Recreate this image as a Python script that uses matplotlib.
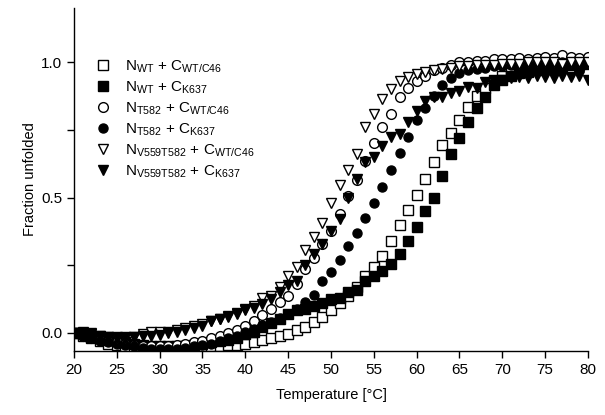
"""
Thermal unfolding curves: fraction unfolded vs temperature
"""
import matplotlib
matplotlib.use("Agg")
import matplotlib.pyplot as plt
from matplotlib.ticker import MultipleLocator

plt.rcParams.update({
    "font.family": ["Liberation Sans", "DejaVu Sans"],
    "mathtext.fontset": "custom",
    "mathtext.rm": "Liberation Sans",
    "mathtext.it": "Liberation Sans",
    "mathtext.bf": "Liberation Sans",
    "figure.dpi": 100,
})

temps = list(range(20, 81))

labels = [
    r"N$_{\mathrm{WT}}$ + C$_{\mathrm{WT/C46}}$",
    r"N$_{\mathrm{WT}}$ + C$_{\mathrm{K637}}$",
    r"N$_{\mathrm{T582}}$ + C$_{\mathrm{WT/C46}}$",
    r"N$_{\mathrm{T582}}$ + C$_{\mathrm{K637}}$",
    r"N$_{\mathrm{V559T582}}$ + C$_{\mathrm{WT/C46}}$",
    r"N$_{\mathrm{V559T582}}$ + C$_{\mathrm{K637}}$",
]

# NWT + CWT/C46 (open squares)
nwt_cwt = [0.0, -0.01, -0.02, -0.03, -0.04, -0.045, -0.05, -0.055, -0.06, -0.06,
           -0.06, -0.058, -0.055, -0.053, -0.052, -0.05, -0.05, -0.048, -0.045, -0.045,
           -0.04, -0.035, -0.028, -0.02, -0.01, -0.003, 0.01, 0.02, 0.04, 0.06,
           0.085, 0.11, 0.135, 0.17, 0.21, 0.245, 0.285, 0.34, 0.40, 0.455,
           0.51, 0.57, 0.63, 0.695, 0.74, 0.785, 0.835, 0.875, 0.905, 0.935,
           0.95, 0.96, 0.97, 0.975, 0.98, 0.985, 0.99, 0.99, 0.995, 1.0, 1.0]
# NWT + CK637 (filled squares)
nwt_ck = [0.0, -0.005, -0.015, -0.02, -0.025, -0.03, -0.035, -0.04, -0.045, -0.05,
          -0.05, -0.05, -0.05, -0.047, -0.044, -0.04, -0.035, -0.03, -0.025, -0.018,
          -0.005, 0.005, 0.02, 0.035, 0.05, 0.07, 0.085, 0.09, 0.10, 0.112,
          0.125, 0.13, 0.15, 0.16, 0.19, 0.21, 0.23, 0.255, 0.29, 0.34,
          0.39, 0.45, 0.50, 0.58, 0.66, 0.72, 0.78, 0.83, 0.87, 0.915,
          0.935, 0.95, 0.96, 0.965, 0.97, 0.975, 0.98, 0.985, 0.99, 0.99, 0.995]
# NT582 + CWT/C46 (open circles)
nt_cwt = [0.0, -0.01, -0.02, -0.025, -0.03, -0.035, -0.04, -0.045, -0.05, -0.05,
          -0.05, -0.05, -0.045, -0.04, -0.035, -0.03, -0.02, -0.01, 0.0, 0.01,
          0.025, 0.045, 0.065, 0.09, 0.115, 0.135, 0.18, 0.235, 0.275, 0.33,
          0.375, 0.44, 0.505, 0.565, 0.635, 0.70, 0.76, 0.81, 0.87, 0.905,
          0.93, 0.95, 0.97, 0.98, 0.99, 1.0, 1.0, 1.005, 1.005, 1.01,
          1.01, 1.01, 1.015, 1.01, 1.015, 1.02, 1.015, 1.025, 1.02, 1.015, 1.02]
# NT582 + CK637 (filled circles)
nt_ck = [0.0, -0.01, -0.02, -0.03, -0.035, -0.04, -0.045, -0.05, -0.055, -0.06,
         -0.06, -0.06, -0.058, -0.055, -0.05, -0.045, -0.04, -0.03, -0.02, -0.01,
         0.005, 0.015, 0.028, 0.04, 0.055, 0.07, 0.09, 0.115, 0.14, 0.19,
         0.225, 0.27, 0.32, 0.37, 0.425, 0.48, 0.54, 0.60, 0.665, 0.725,
         0.785, 0.83, 0.875, 0.915, 0.94, 0.96, 0.97, 0.975, 0.98, 0.985,
         0.985, 0.99, 0.99, 0.99, 0.995, 0.995, 1.0, 1.0, 1.0, 1.0, 1.0]
# NV559T582 + CWT/C46 (open triangles)
nv_cwt = [0.0, 0.005, 0.0, -0.01, -0.015, -0.02, -0.02, -0.015, -0.005, 0.005,
          0.005, 0.005, 0.01, 0.017, 0.025, 0.032, 0.042, 0.05, 0.063, 0.07,
          0.09, 0.10, 0.128, 0.135, 0.17, 0.21, 0.245, 0.305, 0.355, 0.405,
          0.48, 0.545, 0.60, 0.66, 0.76, 0.81, 0.865, 0.90, 0.93, 0.945,
          0.955, 0.965, 0.97, 0.975, 0.98, 0.985, 0.985, 0.99, 0.99, 0.99,
          0.995, 0.995, 0.995, 1.0, 1.0, 1.0, 1.0, 0.995, 1.0, 1.0, 1.0]
# NV559T582 + CK637 (filled triangles)
nv_ck = [0.0, 0.0, -0.005, -0.01, -0.015, -0.015, -0.015, -0.015, -0.01, -0.01,
         -0.007, 0.0, 0.005, 0.012, 0.018, 0.025, 0.045, 0.05, 0.06, 0.072,
         0.085, 0.092, 0.105, 0.125, 0.15, 0.175, 0.19, 0.25, 0.29, 0.33,
         0.375, 0.42, 0.50, 0.57, 0.632, 0.65, 0.69, 0.722, 0.735, 0.78,
         0.82, 0.855, 0.87, 0.87, 0.885, 0.892, 0.91, 0.905, 0.925, 0.93,
         0.935, 0.94, 0.945, 0.94, 0.95, 0.945, 0.94, 0.95, 0.945, 0.95, 0.935]

series = [nwt_cwt, nwt_ck, nt_cwt, nt_ck, nv_cwt, nv_ck]
markers = ["s", "s", "o", "o", "v", "v"]
filled = [False, True, False, True, False, True]
sizes = [7, 6.5, 7, 6.5, 7, 7]

fig = plt.figure(figsize=(6.05, 4.15))
ax = fig.add_axes([0.1223, 0.1542, 0.8496, 0.8265])

for y, m, f, ms, lab in zip(series, markers, filled, sizes, labels):
    ax.plot(temps, y, linestyle="none", marker=m, markersize=ms,
            markerfacecolor="black" if f else "white",
            markeredgecolor="black", markeredgewidth=1.0, label=lab)

ax.set_xlim(20, 80)
ax.set_ylim(-0.067, 1.2)
ax.xaxis.set_major_locator(MultipleLocator(5))
ax.yaxis.set_major_locator(MultipleLocator(0.5))
ax.yaxis.set_minor_locator(MultipleLocator(0.25))
ax.yaxis.set_major_formatter(matplotlib.ticker.FormatStrFormatter("%.1f"))
ax.tick_params(axis="both", which="both", direction="out", length=5, width=1,
               labelsize=11)
ax.tick_params(axis="x", which="minor", bottom=False)
for side in ("top", "right"):
    ax.spines[side].set_visible(False)
for side in ("left", "bottom"):
    ax.spines[side].set_linewidth(1.0)

ax.set_xlabel("Temperature [°C]", fontsize=10.5, labelpad=8)
ax.set_ylabel("Fraction unfolded", fontsize=10.5, labelpad=3)

ax.legend(loc="upper left", bbox_to_anchor=(0.03, 0.87), frameon=False,
          fontsize=11, handletextpad=0.9, labelspacing=0.3,
          borderaxespad=0, handlelength=1.0)

fig.savefig("out.png", dpi=100)
